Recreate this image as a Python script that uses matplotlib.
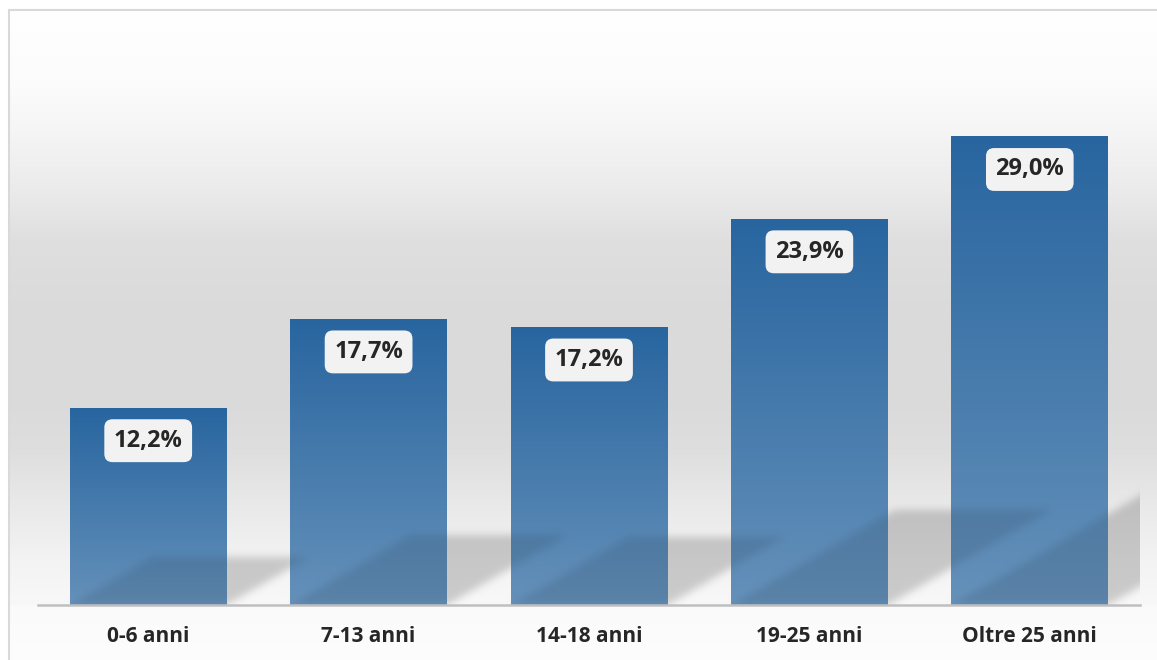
import numpy as np
import matplotlib
matplotlib.use("Agg")
import matplotlib.pyplot as plt
from matplotlib.path import Path
from matplotlib.patches import Rectangle

categories = ["0-6 anni", "7-13 anni", "14-18 anni", "19-25 anni", "Oltre 25 anni"]
values = [12.2, 17.7, 17.2, 23.9, 29.0]

W, H = 1157, 660
plt.rcParams["font.family"] = ["Open Sans", "DejaVu Sans"]

fig = plt.figure(figsize=(W / 100, H / 100), dpi=100)
fig.patch.set_facecolor("white")

bg = fig.add_axes([0, 0, 1, 1], zorder=0)
bg.set_axis_off()
ax = fig.add_axes([38 / W, 1 - 605 / H, (1140 - 38) / W, (605 - 40) / H], zorder=1)
ax.patch.set_visible(False)
ax.set_xlim(-0.5, len(values) - 0.5)
ax.set_ylim(0, 35)

bar_w = 0.712
x = np.arange(len(values))


def to_px(xd, yd):
    px, py = ax.transData.transform((xd, yd))
    return px, H - py


# background: soft vertical grey gradient
rows_y = [0, 9, 80, 120, 190, 240, 300, 400, 450, 500, 560, 604, 607, 660]
grey_v = [255, 255, 252, 247, 235, 223, 219, 218, 222, 232, 243, 248, 250, 253]
col = np.interp(np.arange(H) + 0.5, rows_y, grey_v) / 255.0
img = np.repeat(col[:, None], W, axis=1)

# floor shadows cast by the bars (skewed parallelograms)
base = to_px(0, 0)[1]
right_px = to_px(len(values) - 0.5, 0)[0]
yy, xx = np.mgrid[0:H, 0:W]
pts = np.column_stack([xx.ravel() + 0.5, yy.ravel() + 0.5])
shadow = np.zeros(H * W)
for xi, v in zip(x, values):
    L = to_px(xi - bar_w / 2, 0)[0]
    R = to_px(xi + bar_w / 2, 0)[0]
    top = to_px(xi, v)[1]
    h = 0.245 * (base - top)
    dx = h / 0.58
    poly = Path([(L, base), (R, base), (R + dx, base - h), (L + dx, base - h)])
    shadow = np.maximum(shadow, poly.contains_points(pts).astype(float))
shadow = shadow.reshape(H, W)

k = np.exp(-0.5 * (np.arange(-12, 13) / 4.0) ** 2)
k /= k.sum()
shadow = np.apply_along_axis(lambda m: np.convolve(m, k, mode="same"), 1, shadow)
shadow = np.apply_along_axis(lambda m: np.convolve(m, k, mode="same"), 0, shadow)
shadow[:, int(right_px):] = 0
shadow[int(base):, :] = 0

img = img * (1 - 0.18 * shadow)
img[:9, :] = 1.0
img[:, :8] = 1.0
bg.imshow(np.dstack([img] * 3), extent=(0, W, H, 0), aspect="auto", interpolation="nearest")
bg.set_xlim(0, W)
bg.set_ylim(H, 0)

fig.patches.append(Rectangle((8.5 / W, -0.1), 2, 1 - 9.5 / H + 0.1, transform=fig.transFigure,
                             fill=False, ec="#d9d9d9", lw=1.5, zorder=0.5))

# bars with vertical gradient, lightly darkened where the shadow passes behind
top_c = np.array([0x28, 0x65, 0x9f]) / 255.0
bot_c = np.array([0x65, 0x91, 0xba]) / 255.0
ax.bar(x, values, width=bar_w, color="#4a7db0", zorder=1)
for xi, v in zip(x, values):
    L = int(round(to_px(xi - bar_w / 2, 0)[0]))
    R = int(round(to_px(xi + bar_w / 2, 0)[0]))
    top = int(round(to_px(xi, v)[1]))
    b = int(round(base))
    t = np.linspace(0, 1, b - top)[:, None, None]
    sub = top_c * (1 - t) + bot_c * t
    sub = np.repeat(sub, R - L, axis=1)
    sub = sub * (1 - 0.1 * shadow[top:b, L:R])[:, :, None]
    ax.imshow(np.clip(sub, 0, 1), extent=(xi - bar_w / 2, xi + bar_w / 2, 0, v),
              aspect="auto", origin="upper", interpolation="bilinear", zorder=2)

for xi, v in zip(x, values):
    ax.annotate(f"{v:.1f}%".replace(".", ","), xy=(xi, v), xytext=(0, -23.5),
                textcoords="offset points", ha="center", va="center",
                fontsize=17, fontweight="bold", color="#262626", zorder=3,
                bbox=dict(boxstyle="round,pad=0.4,rounding_size=0.35", fc="#f2f2f2", ec="none"))

ax.set_xlim(-0.5, len(values) - 0.5)
ax.set_ylim(0, 35)
ax.set_yticks([])
ax.set_xticks(x)
ax.set_xticklabels(categories, fontsize=15, fontweight="bold", color="#262626")
ax.tick_params(axis="x", length=0, pad=15)
for s in ["top", "left", "right"]:
    ax.spines[s].set_visible(False)
ax.spines["bottom"].set_color("#bfbfbf")
ax.spines["bottom"].set_linewidth(1.8)
ax.spines["bottom"].set_zorder(4)

fig.savefig("out.png", dpi=100)
